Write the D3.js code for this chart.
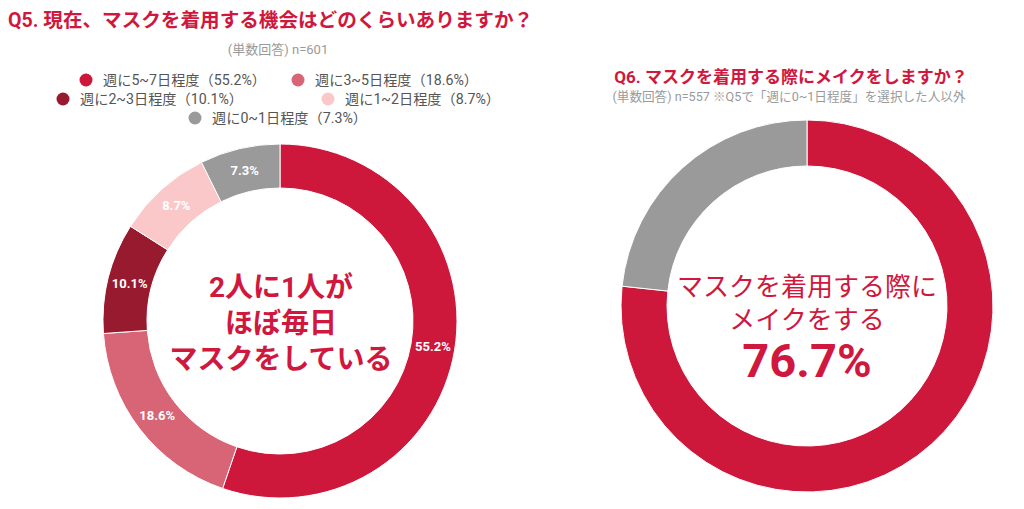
<!DOCTYPE html>
<html>
<head>
<meta charset="utf-8">
<script src="https://cdn.jsdelivr.net/npm/d3@7"></script>
<style>
  html, body { margin: 0; padding: 0; background: #fff; }
  #chart { width: 1024px; height: 509px; }
  text { font-family: "Roboto", "Noto Sans CJK JP", sans-serif; }
</style>
</head>
<body>
<div id="chart"></div>
<script>
// Q5 data
const q5Categories = ["週に5~7日程度", "週に3~5日程度", "週に2~3日程度", "週に1~2日程度", "週に0~1日程度"];
const q5Values = [55.2, 18.6, 10.1, 8.7, 7.3];
const q5Colors = ["#cd173b", "#d76576", "#981a2e", "#fbc8ca", "#9a9a9a"];

// Q6 data
const q6Categories = ["する", "しない"];
const q6Values = [76.7, 23.3];
const q6Colors = ["#cd173b", "#9a9a9a"];

const titleRed = "#d0173d";

const width = document.querySelector("#chart").clientWidth;
const height = document.querySelector("#chart").clientHeight;

const svg = d3.select("#chart")
    .append("svg")
    .attr("width", width)
    .attr("height", height);

const pie = d3.pie().sort(null).value(d => d.value);

//1. LEFT CHART (Q5)
svg.append("text")
    .attr("x", 8)
    .attr("y", 27)
    .attr("fill", titleRed)
    .attr("font-size", 19.6)
    .attr("font-weight", "bold")
    .text("Q5. 現在、マスクを着用する機会はどのくらいありますか？");

svg.append("text")
    .attr("x", 278)
    .attr("y", 54)
    .attr("text-anchor", "middle")
    .attr("fill", "#9a9a9a")
    .attr("font-size", 13)
    .text("(単数回答) n=601");

// legend positions (rows centred like the original)
const legendPos = [
    {cx: 86, cy: 80}, {cx: 298, cy: 80},
    {cx: 63, cy: 99}, {cx: 328, cy: 99},
    {cx: 195, cy: 118}
];

const legend = svg.selectAll(".legend")
    .data(q5Categories)
    .enter()
    .append("g")
    .attr("class", "legend")
    .attr("transform", (d, i) => `translate(${legendPos[i].cx},${legendPos[i].cy})`);

legend.append("circle")
    .attr("r", 6.5)
    .attr("fill", (d, i) => q5Colors[i]);

legend.append("text")
    .attr("x", 17)
    .attr("y", 5)
    .attr("font-size", 14.2)
    .attr("fill", "#555")
    .text((d, i) => `${d}（${q5Values[i]}%）`);

const q5Data = q5Categories.map((c, i) => ({name: c, value: q5Values[i]}));

const left = svg.append("g")
    .attr("transform", "translate(280,321)");

const arcL = d3.arc().innerRadius(133).outerRadius(177);
const labelArcL = d3.arc().innerRadius(155).outerRadius(155);

left.selectAll("path")
    .data(pie(q5Data))
    .enter()
    .append("path")
    .attr("d", arcL)
    .attr("fill", (d, i) => q5Colors[i])
    .attr("stroke", "#fff")
    .attr("stroke-width", 1);

left.selectAll(".slabel")
    .data(pie(q5Data))
    .enter()
    .append("text")
    .attr("class", "slabel")
    .attr("transform", d => `translate(${labelArcL.centroid(d)})`)
    .attr("dy", "0.36em")
    .attr("text-anchor", "middle")
    .attr("fill", "#fff")
    .attr("font-size", 13)
    .attr("font-weight", "bold")
    .text(d => d.data.value + "%");

const leftCenter = ["2人に1人が", "ほぼ毎日", "マスクをしている"];
left.selectAll(".ctext")
    .data(leftCenter)
    .enter()
    .append("text")
    .attr("class", "ctext")
    .attr("x", 1)
    .attr("y", (d, i) => -34 + i * 36)
    .attr("dy", "0.36em")
    .attr("text-anchor", "middle")
    .attr("fill", titleRed)
    .attr("font-size", 28)
    .attr("font-weight", "bold")
    .text(d => d);

//2. RIGHT CHART (Q6)
svg.append("text")
    .attr("x", 791)
    .attr("y", 83)
    .attr("text-anchor", "middle")
    .attr("fill", titleRed)
    .attr("font-size", 17)
    .attr("font-weight", "bold")
    .text("Q6. マスクを着用する際にメイクをしますか？");

svg.append("text")
    .attr("x", 789)
    .attr("y", 101)
    .attr("text-anchor", "middle")
    .attr("fill", "#9a9a9a")
    .attr("font-size", 12.6)
    .text("(単数回答) n=557 ※Q5で「週に0~1日程度」を選択した人以外");

const q6Data = q6Categories.map((c, i) => ({name: c, value: q6Values[i]}));

const right = svg.append("g")
    .attr("transform", "translate(807,306)");

const arcR = d3.arc().innerRadius(140).outerRadius(186);

right.selectAll("path")
    .data(pie(q6Data))
    .enter()
    .append("path")
    .attr("d", arcR)
    .attr("fill", (d, i) => q6Colors[i])
    .attr("stroke", "#fff")
    .attr("stroke-width", 1);

const rightCenter = ["マスクを着用する際に", "メイクをする"];
right.selectAll(".ctext")
    .data(rightCenter)
    .enter()
    .append("text")
    .attr("class", "ctext")
    .attr("x", 0)
    .attr("y", (d, i) => -19 + i * 33)
    .attr("dy", "0.36em")
    .attr("text-anchor", "middle")
    .attr("fill", titleRed)
    .attr("font-size", 26)
    .text(d => d);

right.append("text")
    .attr("x", 0)
    .attr("y", 54)
    .attr("dy", "0.36em")
    .attr("text-anchor", "middle")
    .attr("fill", titleRed)
    .attr("font-size", 47)
    .attr("font-weight", "bold")
    .text(q6Values[0] + "%");
</script>
</body>
</html>
